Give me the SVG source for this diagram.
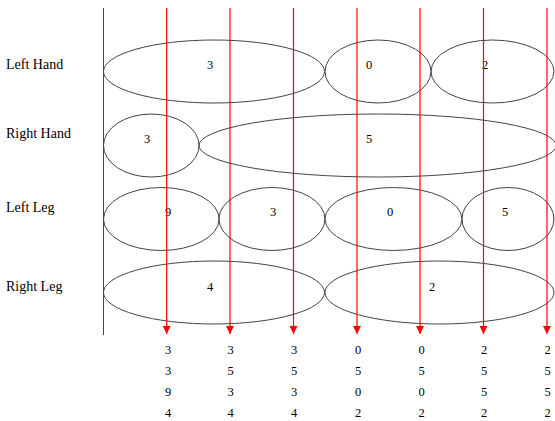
<svg xmlns="http://www.w3.org/2000/svg" width="555" height="421" viewBox="0 0 555 421">
<style>
.lbl{font-family:"Liberation Serif",serif;font-size:14px;fill:#000}
.num{font-family:"Liberation Serif",serif;font-size:12.5px;fill:#000;text-anchor:middle}
.e{fill:none;stroke:#444;stroke-width:1}
.r{stroke:#ff0000;stroke-width:1.2;fill:none}
</style>
<defs>
<marker id="ah" markerUnits="userSpaceOnUse" markerWidth="8" markerHeight="8" refX="7" refY="3.5" orient="auto" viewBox="0 0 7 7">
<path d="M0,0 L7,3.5 L0,7 Z" fill="#ff0000"/>
</marker>
</defs>
<rect width="555" height="421" fill="#fff"/>
<g id="labels">
<text class="lbl" x="6" y="69">Left Hand</text>
<text class="lbl" x="6" y="138">Right Hand</text>
<text class="lbl" x="6" y="212">Left Leg</text>
<text class="lbl" x="6" y="291">Right Leg</text>
</g>
<line x1="103.5" y1="8" x2="103.5" y2="335" stroke="#444" stroke-width="1"/>
<g id="lh-3"><ellipse class="e" cx="214" cy="71.5" rx="110.5" ry="31.5"/><text class="num" x="210" y="69">3</text></g>
<g id="lh-0"><ellipse class="e" cx="378" cy="71.5" rx="53" ry="31.5"/><text class="num" x="369" y="69">0</text></g>
<g id="lh-2"><ellipse class="e" cx="492.5" cy="71.5" rx="61.5" ry="31.5"/><text class="num" x="485" y="69">2</text></g>
<g id="rh-3"><ellipse class="e" cx="151.3" cy="145.5" rx="47.8" ry="31.5"/><text class="num" x="147" y="143">3</text></g>
<g id="rh-5"><ellipse class="e" cx="377.5" cy="145.5" rx="178.5" ry="31.5"/><text class="num" x="369" y="143">5</text></g>
<g id="ll-9"><ellipse class="e" cx="161.3" cy="219" rx="57.8" ry="31.5"/><text class="num" x="168" y="216">9</text></g>
<g id="ll-3"><ellipse class="e" cx="272" cy="219" rx="53" ry="31.5"/><text class="num" x="273" y="216">3</text></g>
<g id="ll-0"><ellipse class="e" cx="393.5" cy="219" rx="68.5" ry="31.5"/><text class="num" x="390" y="216">0</text></g>
<g id="ll-5"><ellipse class="e" cx="508" cy="219" rx="46" ry="31.5"/><text class="num" x="505" y="216">5</text></g>
<g id="rl-4"><ellipse class="e" cx="214" cy="292.5" rx="110.5" ry="31.5"/><text class="num" x="210" y="291">4</text></g>
<g id="rl-2"><ellipse class="e" cx="439.5" cy="292.5" rx="114.5" ry="31.5"/><text class="num" x="432" y="291">2</text></g>
<g id="connectors">
<line class="r" x1="166.7" y1="8" x2="166.7" y2="334" marker-end="url(#ah)"/>
<line class="r" x1="230" y1="8" x2="230" y2="334" marker-end="url(#ah)"/>
<line class="r" x1="293.5" y1="8" x2="293.5" y2="334" marker-end="url(#ah)"/>
<line class="r" x1="357" y1="8" x2="357" y2="334" marker-end="url(#ah)"/>
<line class="r" x1="420" y1="8" x2="420" y2="334" marker-end="url(#ah)"/>
<line class="r" x1="483.5" y1="8" x2="483.5" y2="334" marker-end="url(#ah)"/>
<line class="r" x1="547" y1="8" x2="547" y2="334" marker-end="url(#ah)"/>
</g>
<g id="results">
<text class="num" x="168" y="354">3</text><text class="num" x="168" y="375">3</text><text class="num" x="168" y="396">9</text><text class="num" x="168" y="416.5">4</text>
<text class="num" x="230.7" y="354">3</text><text class="num" x="230.7" y="375">5</text><text class="num" x="230.7" y="396">3</text><text class="num" x="230.7" y="416.5">4</text>
<text class="num" x="294" y="354">3</text><text class="num" x="294" y="375">5</text><text class="num" x="294" y="396">3</text><text class="num" x="294" y="416.5">4</text>
<text class="num" x="358" y="354">0</text><text class="num" x="358" y="375">5</text><text class="num" x="358" y="396">0</text><text class="num" x="358" y="416.5">2</text>
<text class="num" x="421.5" y="354">0</text><text class="num" x="421.5" y="375">5</text><text class="num" x="421.5" y="396">0</text><text class="num" x="421.5" y="416.5">2</text>
<text class="num" x="484" y="354">2</text><text class="num" x="484" y="375">5</text><text class="num" x="484" y="396">5</text><text class="num" x="484" y="416.5">2</text>
<text class="num" x="547.7" y="354">2</text><text class="num" x="547.7" y="375">5</text><text class="num" x="547.7" y="396">5</text><text class="num" x="547.7" y="416.5">2</text>
</g>
</svg>
